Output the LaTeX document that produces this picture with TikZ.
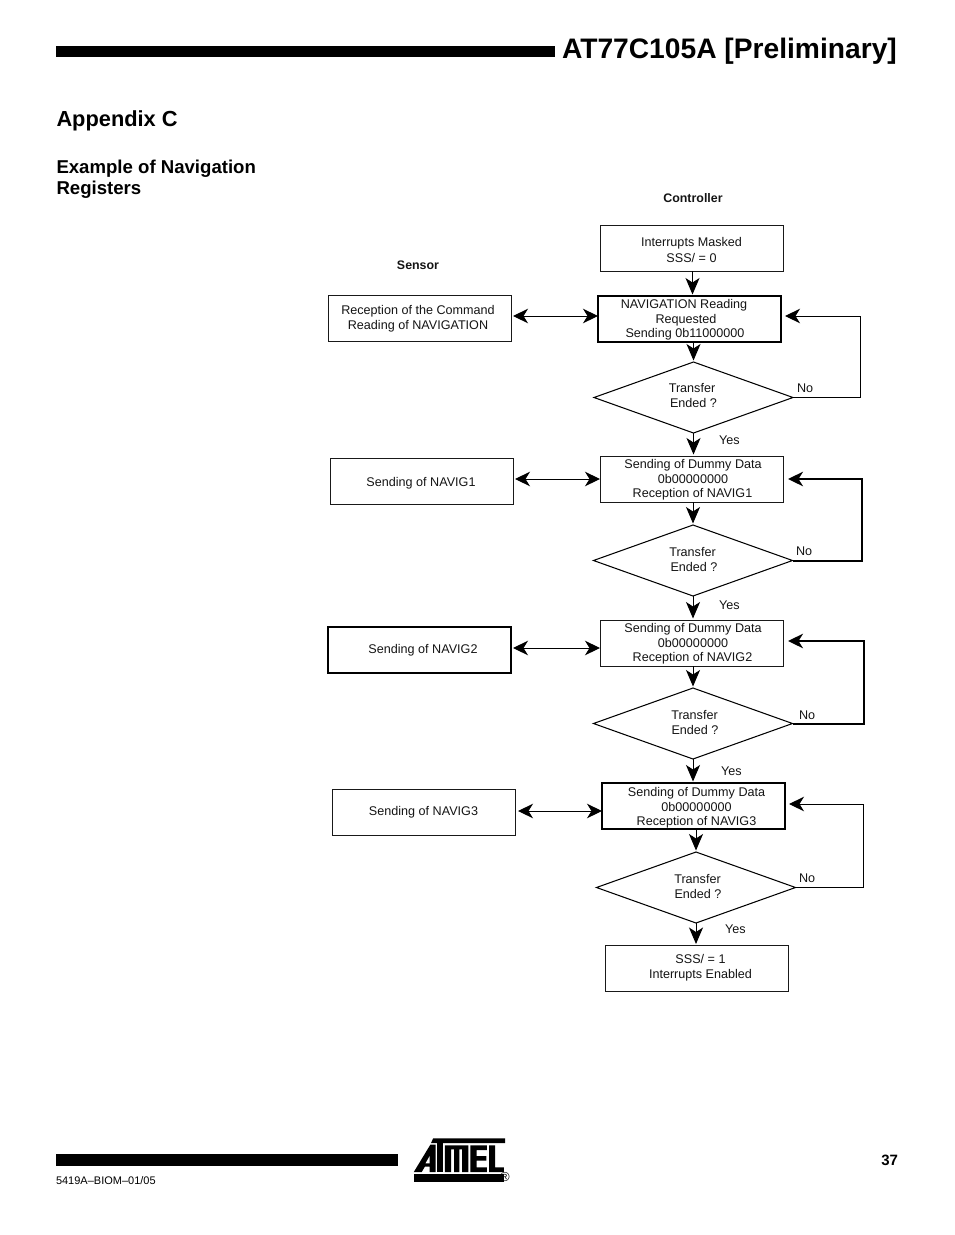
\documentclass[tikz,border=0pt]{standalone}
\usepackage{fontspec}
\setmainfont{Liberation Sans}
\usetikzlibrary{shapes.geometric,arrows.meta}
\newcommand{\dnrule}[1]{\rule{0pt}{#1pt}}
\newcommand{\uprule}[1]{\rule[-#1pt]{0pt}{0pt}}
\tikzset{
  x=1pt,y=-1pt,
  every node/.style={inner sep=0pt,outer sep=0pt},
  flowtext/.style={font=\fontsize{12.6}{14.6}\selectfont,align=center,text=black!92},
  procbox/.style={flowtext,draw=black!90,line width=0.9pt,rectangle,minimum width=183pt,minimum height=46pt},
  heavybox/.style={procbox,draw=black,line width=1.7pt},
  decision/.style={flowtext,draw=black,line width=1.05pt,diamond,aspect=2.78,minimum width=199pt,minimum height=71pt},
  flow/.style={draw=black,line width=1pt,shorten >=1.5pt,-{Stealth[length=16.5pt,width=14pt,inset=4.5pt]}},
  both/.style={draw=black,line width=1pt,{Stealth[length=15pt,width=14.5pt,inset=4.5pt]}-{Stealth[length=15pt,width=14.5pt,inset=4.5pt]}},
  loopthin/.style={draw=black,line width=1pt,-{Stealth[length=15pt,width=14.5pt,inset=4.5pt]},shorten >=4pt},
  loopthick/.style={draw=black,line width=2pt,-{Stealth[length=15pt,width=14.5pt,inset=4.5pt]},shorten >=5pt},
  head/.style={font=\bfseries\fontsize{12.4}{14.6}\selectfont,text=black!92},
  tag/.style={flowtext,anchor=west},
  hbar/.style={fill=black,draw=none},
  logoink/.style={fill=black,draw=none},
  logogap/.style={fill=white,draw=none}
}
\begin{document}
\begin{tikzpicture}
\useasboundingbox (0,0) rectangle (954,1235);
% page furniture
\fill[hbar] (56,46) rectangle (555,57);
\fill[hbar] (56,1154) rectangle (398,1166);
\node[anchor=base west,font=\bfseries\fontsize{28.2}{30}\selectfont] (title) at (562,58) {AT77C105A [Preliminary]};
\node[anchor=base west,font=\bfseries\fontsize{21.8}{24}\selectfont] (appx) at (56.5,126) {Appendix C};
\node[anchor=north west,align=left,font=\bfseries\fontsize{18.6}{21}\selectfont] (sect) at (56.5,160) {Example of Navigation\\Registers};
\node[anchor=base east,font=\bfseries\fontsize{15}{17}\selectfont] (pg) at (898,1165) {37};
\node[anchor=base west,font=\fontsize{11}{13}\selectfont] (docid) at (56,1184) {5419A–BIOM–01/05};
% column heads
\node[head] (ctrl) at (693,198) {Controller};
\node[head] (sens) at (418,265) {Sensor};
% controller column
\node[procbox] (im) at (691.5,248) {\dnrule{13}Interrupts Masked\\[2pt]SSS/ = 0};
\node[heavybox] (nav) at (689.5,319) {\dnrule{11}\hspace*{-11pt}NAVIGATION Reading\\\hspace*{-7pt}Requested\\\hspace*{-9pt}Sending 0b11000000};
\node[decision] (d1) at (693.5,397.5) {\hspace*{-3pt}Transfer\\\hspace*{0pt}Ended ?\uprule{4}};
\node[procbox] (s1) at (691.5,479) {\dnrule{11}\hspace*{3pt}Sending of Dummy Data\\\hspace*{3pt}0b00000000\\\hspace*{2pt}Reception of NAVIG1};
\node[decision] (d2) at (693,560.5) {\hspace*{-1pt}Transfer\\\hspace*{2pt}Ended ?\uprule{2}};
\node[procbox] (s2) at (691.5,643) {\dnrule{11}\hspace*{3pt}Sending of Dummy Data\\\hspace*{3pt}0b00000000\\\hspace*{2pt}Reception of NAVIG2};
\node[decision] (d3) at (693,723.5) {\hspace*{3pt}Transfer\\\hspace*{4pt}Ended ?\uprule{2}};
\node[heavybox,line width=1.5pt] (s3) at (693.5,806) {\dnrule{13}\hspace*{6pt}Sending of Dummy Data\\\hspace*{6pt}0b00000000\\\hspace*{6pt}Reception of NAVIG3};
\node[decision] (d4) at (696,887.5) {\hspace*{3pt}Transfer\\\hspace*{4pt}Ended ?\uprule{2}};
\node[procbox] (end) at (696.5,968.5) {\hspace*{8pt}SSS/ = 1\\\hspace*{8pt}Interrupts Enabled\uprule{4.6}};
% sensor column
\node[procbox] (rc) at (419.5,318) {\dnrule{11}\hspace*{-3pt}Reception of the Command\\\hspace*{-3pt}Reading of NAVIGATION};
\node[procbox] (n1) at (421.5,481) {\dnrule{13}\hspace*{-1pt}Sending of NAVIG1};
\node[heavybox,line width=1.4pt] (n2) at (419.5,650) {\hspace*{7pt}Sending of NAVIG2};
\node[procbox] (n3) at (423.5,812.5) {Sending of NAVIG3};
% corners of the retry loops
\coordinate (c1) at (860,316);
\coordinate (c2) at (862,479);
\coordinate (c3) at (864,641);
\coordinate (c4) at (863,804);
% down flow
\draw[flow] ([xshift=1pt]im.south) -- ([xshift=1pt]im.south |- nav.north);
\draw[flow] (nav.south -| d1.north) -- (d1.north);
\draw[flow] (d1.south) -- (d1.south |- s1.north);
\draw[flow] (s1.south -| d2.north) -- (d2.north);
\draw[flow] (d2.south) -- (d2.south |- s2.north);
\draw[flow] (s2.south -| d3.north) -- (d3.north);
\draw[flow] (d3.south) -- (d3.south |- s3.north);
\draw[flow] (s3.south -| d4.north) -- (d4.north);
\draw[flow] (d4.south) -- (d4.south |- end.north);
% retry loops
\draw[loopthin] (d1.east) -| (c1) -- (c1 -| nav.east);
\draw[loopthick] (d2.east) -| (c2) -- (c2 -| s1.east);
\draw[loopthick] (d3.east) -| (c3) -- (c3 -| s2.east);
\draw[loopthin] (d4.east) -| (c4) -- (c4 -| s3.east);
% sensor links
\draw[both,shorten <=2pt] (rc.east |- c1) -- (nav.west |- c1);
\draw[both,shorten <=2pt] (n1.east |- c2) -- (s1.west |- c2);
\draw[both,shorten <=2pt] (n2.east |- 0,648) -- (s2.west |- 0,648);
\draw[both,shorten <=3pt] (n3.east |- 0,811) -- (s3.west |- 0,811);
% yes / no tags
\node[tag] (y1) at (719,440) {Yes};
\node[tag] (no1) at (797,388) {No};
\node[tag] (y2) at (719,605) {Yes};
\node[tag] (no2) at (796,551) {No};
\node[tag] (y3) at (721,771) {Yes};
\node[tag] (no3) at (799,715) {No};
\node[tag] (y4) at (725,929) {Yes};
\node[tag] (no4) at (799,878) {No};
% logo
\begin{scope}[shift={(400,1130)},x=0.345pt,y=-0.3333pt]
  \fill[logoink] (40,133) -- (301,133) -- (301,155) -- (40,155) -- cycle;
  \fill[logoink] (96,25) -- (305,25) -- (305,39) -- (90,39) -- cycle;
  % A
  \fill[logoink] (40,126) -- (88,44) -- (103,44) -- (103,126) -- (86,126) -- (86,110) -- (72,110) -- (63,126) -- cycle;
  \fill[logogap] (86,78) -- (74,100) -- (86,100) -- cycle;
  % T
  \fill[logoink] (108,39) -- (124,39) -- (124,126) -- (108,126) -- cycle;
  % M
  \fill[logoink] (130,46) -- (198,46) -- (198,126) -- (180,126) -- (180,58) -- (172,58) -- (172,126) -- (157,126) -- (157,58) -- (148,58) -- (148,126) -- (130,126) -- cycle;
  % E
  \fill[logoink] (204,46) -- (252,46) -- (252,60) -- (222,60) -- (222,78) -- (250,78) -- (250,92) -- (222,92) -- (222,112) -- (252,112) -- (252,126) -- (204,126) -- cycle;
  % L
  \fill[logoink] (258,46) -- (276,46) -- (276,112) -- (301,112) -- (301,126) -- (258,126) -- cycle;
\end{scope}
\node[font=\fontsize{13}{13}\selectfont] (reg) at (505,1177) {®};
\end{tikzpicture}
\end{document}
